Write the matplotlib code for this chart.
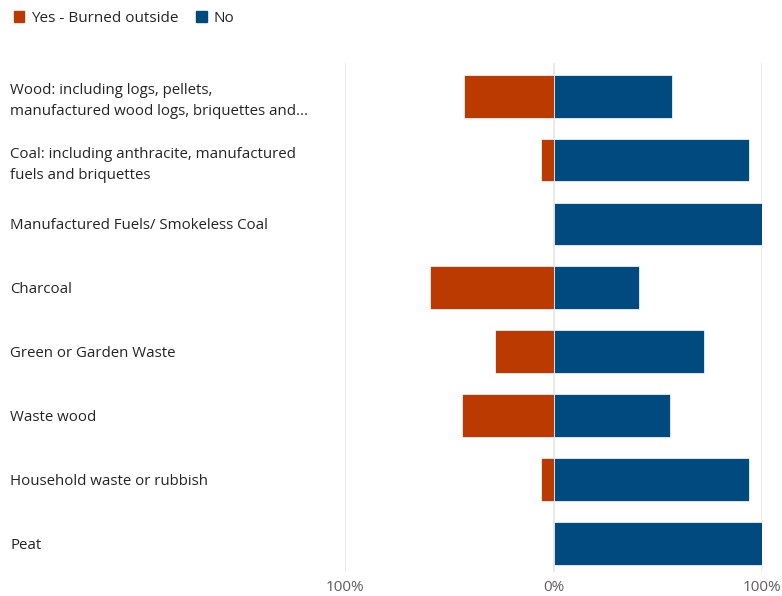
import matplotlib.pyplot as plt
from matplotlib.patches import Patch

plt.rcParams['font.family'] = ['Open Sans', 'DejaVu Sans']

categories = [
    "Wood: including logs, pellets,\nmanufactured wood logs, briquettes and...",
    "Coal: including anthracite, manufactured\nfuels and briquettes",
    "Manufactured Fuels/ Smokeless Coal",
    "Charcoal",
    "Green or Garden Waste",
    "Waste wood",
    "Household waste or rubbish",
    "Peat",
]
yes_outside = [43, 6, 0, 59, 28, 44, 6, 0]
no_vals = [57, 94, 100, 41, 72, 56, 94, 100]

orange = '#BA3A02'
blue = '#004A80'

fig = plt.figure(figsize=(7.82, 5.96), dpi=100)
ax = fig.add_axes([345 / 782, 1 - 572 / 596, (762 - 345) / 782, (572 - 63) / 596])

y = list(range(len(categories)))
ax.barh(y, [-v for v in yes_outside], height=0.67, color=orange, edgecolor='white', linewidth=0.5)
ax.barh(y, no_vals, height=0.67, color=blue, edgecolor='white', linewidth=0.5)

ax.set_xlim(-100, 100)
ax.set_ylim(7.45, -0.52)

# light vertical gridlines
for gx in [-100, 0, 100]:
    ax.axvline(gx, color='#e6e6e6', linewidth=1.2, zorder=0)

ax.set_xticks([-100, 0, 100])
ax.set_xticklabels(['100%', '0%', '100%'], color='#605E5C', fontsize=11)
ax.set_yticks(y)
ax.set_yticklabels(categories, fontsize=10.8, color='#252423')
for lab in ax.get_yticklabels():
    lab.set_ha('left')
    lab.set_linespacing(1.5)
ax.tick_params(axis='y', length=0, pad=241)
ax.tick_params(axis='x', length=0, pad=6)

for s in ax.spines.values():
    s.set_visible(False)

handles = [Patch(color=orange, label='Yes - Burned outside'),
           Patch(color=blue, label='No')]
fig.legend(handles=handles, loc='upper left', bbox_to_anchor=(0.0, 1.005), ncol=2,
           frameon=False, fontsize=11, handlelength=0.7, handleheight=0.7,
           handletextpad=0.4, columnspacing=1.2, labelcolor='#252423')

plt.savefig('out.png', dpi=100)
